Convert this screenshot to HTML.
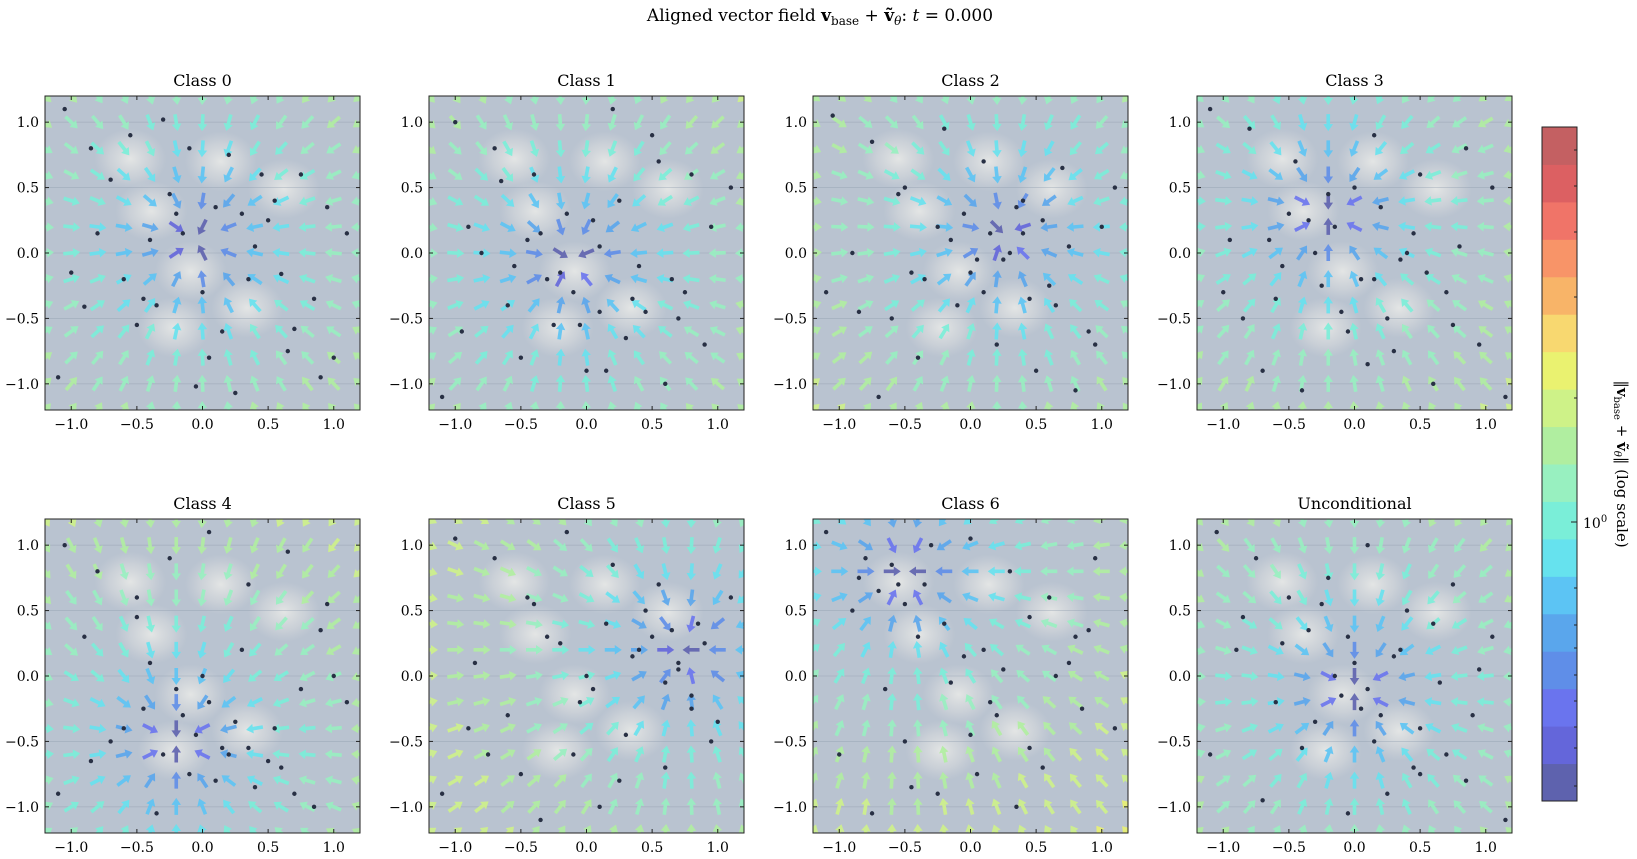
<!DOCTYPE html>
<html><head><meta charset="utf-8">
<style>
body{margin:0;background:#fff;}
svg{display:block;font-family:"DejaVu Serif","Liberation Serif",serif;}
</style></head>
<body>
<svg id="fig" width="1637" height="859" viewBox="0 0 1637 859" xmlns="http://www.w3.org/2000/svg">
<defs>
<radialGradient id="blob"><stop offset="0" stop-color="#eeeeea" stop-opacity="0.8"/><stop offset="0.6" stop-color="#e4e4e2" stop-opacity="0.4"/><stop offset="1" stop-color="#dddddd" stop-opacity="0"/></radialGradient>
</defs>
<text x="820" y="21" font-size="17" text-anchor="middle">Aligned vector field <tspan font-weight="bold">v</tspan><tspan font-size="12" dy="4">base</tspan><tspan dy="-4"> + </tspan><tspan font-weight="bold">ṽ</tspan><tspan font-size="12" dy="4" font-style="italic">θ</tspan><tspan dy="-4">: </tspan><tspan font-style="italic">t</tspan> = 0.000</text>
<g id="panels"></g>
<g id="cbar"></g>
<text transform="translate(1617,464) rotate(90)" font-size="15" text-anchor="middle">‖<tspan font-weight="bold">v</tspan><tspan font-size="10" dy="3">base</tspan><tspan dy="-3"> + </tspan><tspan font-weight="bold">ṽ</tspan><tspan font-size="10" dy="3" font-style="italic">θ</tspan><tspan dy="-3">‖ (log scale)</tspan></text>
</svg>
<script>
const titles=["Class 0","Class 1","Class 2","Class 3","Class 4","Class 5","Class 6","Unconditional"];
const targetsX=[-0.05,-0.12,0.25,-0.2,-0.2,0.75,-0.5,0.0];
const targetsY=[0.1,-0.05,0.15,0.3,-0.5,0.2,0.8,-0.1];
const blobX=[-0.39,-0.09,0.34,-0.22,0.14,0.62,-0.55];
const blobY=[0.32,-0.14,-0.42,-0.57,0.70,0.49,0.72];
const tickVals=[-1.0,-0.5,0.0,0.5,1.0];
const tickLabels=["−1.0","−0.5","0.0","0.5","1.0"];
const gridVals=[-1.2,-1.0,-0.8,-0.6,-0.4,-0.2,0,0.2,0.4,0.6,0.8,1.0,1.2];
const ptsX=[
[-1.05,-0.85,-0.55,-0.3,-0.1,0.1,0.45,0.75,0.95,1.1,-0.6,-0.2,0.3,0.6,-0.9,-0.45,0.05,0.25,0.85,-0.15,0.35,-0.7,0.55,1.0,-0.35,0.15,-1.1,0.7,-0.05,0.4,-0.25,0.2,-0.5,0.9,-0.8,0.5,0.0,-0.4,0.65,-1.0],
[-1.0,-0.7,-0.4,-0.15,0.2,0.5,0.8,1.1,-0.9,-0.3,0.1,0.4,0.7,-0.6,-0.1,0.3,0.9,-1.1,-0.5,0.0,0.6,-0.8,0.25,-0.25,0.45,0.05,-0.45,0.75,0.15,-0.65,-0.2,0.35,-0.55,0.95,0.55,-0.95,0.1,-0.35,0.65,-0.05],
[-1.05,-0.75,-0.5,-0.2,0.1,0.4,0.7,1.0,-0.9,-0.35,0.0,0.3,0.6,0.9,-0.6,-0.1,0.2,0.5,0.8,-1.1,-0.4,0.15,0.45,-0.7,0.35,0.05,-0.25,0.65,1.1,-0.55,0.25,-0.15,0.55,-0.85,0.1,0.75,-0.45,0.4,-0.05,0.95],
[-1.1,-0.8,-0.45,-0.2,0.15,0.5,0.85,1.05,-0.95,-0.3,0.05,0.35,0.7,-0.6,-0.05,0.25,0.95,-0.7,-0.4,0.1,0.6,-0.15,0.45,-0.85,0.3,-0.5,0.8,0.0,-0.25,1.15,-0.35,0.2,-0.55,0.55,-1.0,0.4,-0.1,0.75,-0.65,0.15],
[-1.05,-0.8,-0.5,-0.25,0.05,0.35,0.65,0.95,-0.9,-0.4,0.0,0.3,0.75,1.1,-0.6,-0.15,0.2,0.5,-1.1,-0.35,0.1,0.4,0.85,-0.7,0.25,-0.05,0.6,-0.5,0.15,0.9,-0.3,0.35,-0.1,0.55,-0.85,0.05,-0.45,0.7,-0.2,1.0],
[-1.0,-0.7,-0.45,-0.15,0.2,0.55,0.85,1.1,-0.85,-0.3,0.05,0.4,0.7,-0.6,-0.05,0.3,0.95,-1.1,-0.5,0.1,0.6,-0.2,0.45,0.8,-0.75,0.25,0.65,0.0,-0.35,1.0,0.5,0.7,0.9,0.6,-0.4,0.35,-0.9,0.15,0.8,-0.1],
[-1.1,-0.8,-0.55,-0.3,0.0,0.3,0.6,0.95,-0.9,-0.4,0.1,0.45,0.75,-0.65,-0.15,0.2,0.85,-1.0,-0.5,0.05,0.55,-0.25,0.35,1.1,-0.75,0.15,0.65,-0.05,-0.45,0.9,-0.6,-0.35,-0.7,-0.5,0.25,-0.85,0.45,-0.2,0.8,0.0],
[-1.05,-0.75,-0.5,-0.2,0.1,0.4,0.75,1.05,-0.9,-0.35,0.0,0.3,0.65,0.95,-0.6,-0.1,0.2,0.5,-1.1,-0.4,0.15,0.45,0.85,-0.7,0.25,-0.05,0.6,-0.25,0.05,1.15,-0.15,0.1,-0.3,0.35,-0.55,0.7,-0.85,0.5,-0.05,0.9]];
const ptsY=[
[1.1,0.8,0.9,1.02,0.8,0.35,0.6,0.6,0.35,0.15,-0.2,0.3,0.3,-0.16,-0.41,-0.35,-0.8,-1.07,-0.35,0.15,-0.2,0.56,0.4,-0.8,-0.4,-0.6,-0.95,-0.58,-1.02,0.05,0.45,0.75,-0.55,-0.95,0.15,0.25,-0.3,0.1,-0.75,-0.15],
[1.0,0.8,0.6,0.3,1.1,0.9,0.6,0.5,0.2,-0.2,0.05,-0.1,-0.5,-0.4,-0.3,-0.65,-0.7,-1.1,-0.8,-0.9,-1.0,0.0,0.4,-0.55,-0.45,0.25,0.1,-0.3,-0.9,0.55,-0.15,-0.35,-0.1,0.2,0.7,-0.6,-0.45,0.15,-0.2,-0.55],
[1.05,0.85,0.5,0.95,0.7,0.4,0.65,0.2,0.0,-0.2,-0.15,0.0,-0.25,-0.6,-0.5,-0.4,-0.7,-0.9,-1.05,-0.3,-0.8,0.15,-0.35,-1.1,0.35,-0.05,0.2,-0.4,0.5,0.45,-0.05,0.1,0.25,-0.45,-0.3,0.05,-0.15,0.15,0.3,-0.7],
[1.1,0.95,0.7,0.45,0.9,0.6,0.8,0.5,0.1,0.0,-0.2,-0.05,-0.3,-0.35,-0.6,-0.5,-0.7,-0.9,-1.05,-0.85,-1.0,0.2,0.15,-0.5,-0.75,0.3,0.05,0.5,-0.25,-1.1,0.25,0.35,-0.1,-0.15,-0.3,0.0,-0.45,-0.55,0.1,-0.2],
[1.0,0.8,0.6,0.9,1.1,0.7,0.95,0.55,0.3,0.1,0.0,0.2,-0.1,-0.2,-0.4,-0.3,-0.6,-0.65,-0.9,-1.05,-0.8,-0.85,-1.0,-0.5,-0.35,-0.45,-0.7,0.45,-0.55,0.35,-0.6,-0.55,-0.75,-0.4,-0.65,-0.2,-0.25,-0.9,-0.1,0.0],
[1.05,0.9,0.6,1.1,0.85,0.7,0.4,0.6,0.1,0.3,-0.1,0.2,0.05,-0.3,-0.2,-0.45,-0.5,-0.9,-0.75,-1.0,-0.7,0.25,0.5,-0.15,-0.6,-0.8,0.35,0.0,-1.1,-0.35,0.3,0.1,0.25,-0.05,0.55,0.15,-0.4,0.4,-0.25,-0.6],
[1.1,0.9,0.7,1.0,1.05,0.8,0.6,0.9,0.5,0.3,0.2,0.45,0.1,-0.1,-0.05,-0.3,-0.25,-0.6,-0.5,-0.75,-0.7,-0.9,-1.0,-0.4,-1.05,-0.2,0.0,0.15,-0.85,0.35,0.85,0.7,0.65,0.55,0.05,0.75,-0.55,0.4,0.3,-0.45],
[1.1,0.9,0.6,0.75,1.0,0.5,0.7,0.3,0.2,0.35,0.1,0.15,-0.05,0.05,-0.2,-0.15,-0.3,-0.4,-0.6,-0.55,-0.5,-0.7,-0.8,-0.95,-0.9,-1.05,0.4,0.55,-0.25,-1.1,0.0,-0.1,-0.35,0.2,0.25,-0.6,0.45,-0.75,0.3,-0.3]];
const cmapStops=["#5e62ae","#6466da","#6a74ee","#5f8ee8","#5aa6ec","#5cc4f4","#66e2ee","#7aeed8","#98f0c0","#b0eea0","#cef288","#eaf270","#f8d870","#f8b468","#f89468","#f07468","#dc6062","#c46062"];
const NS="http://www.w3.org/2000/svg";
const colX=[45,429,813,1197],rowY=[96,519],W=315,H=314;
function mk(tag,attrs,parent){const e=document.createElementNS(NS,tag);for(const k in attrs)e.setAttribute(k,attrs[k]);if(parent)parent.appendChild(e);return e;}
function cmap(t){t=Math.max(0,Math.min(0.999,t));return cmapStops[Math.floor(t*cmapStops.length)];}
const root=document.getElementById('panels');
for(let p=0;p<8;p++){
  const x0=colX[p%4],y0=rowY[Math.floor(p/4)];
  const sx=v=>x0+(v+1.2)/2.4*W, sy=v=>y0+(1.2-v)/2.4*H;
  const g=mk('g',{},root);
  
  
  const cid='clip'+p;
  const cp=mk('clipPath',{id:cid},g);mk('rect',{x:x0,y:y0,width:W,height:H},cp);
  const inner=mk('g',{'clip-path':'url(#'+cid+')'},g);
  const bg=mk('rect',{x:x0,y:y0,width:W,height:H,fill:'#b9c3d0'},inner);
  
  
  for(let b=0;b<blobX.length;b++){
    const bl=mk('ellipse',{cx:sx(blobX[b]),cy:sy(blobY[b]),rx:36,ry:30,fill:'url(#blob)'},inner);
    
    
  }
  tickVals.forEach(v=>{mk('line',{x1:x0,x2:x0+W,y1:sy(v),y2:sy(v),stroke:'#8a98aa','stroke-width':0.8,opacity:0.4},inner);});
  const tx=targetsX[p],ty=targetsY[p];
  gridVals.forEach(gx=>gridVals.forEach(gy=>{
    const dx=tx-gx,dy=ty-gy,d=Math.hypot(dx,dy)+1e-6;
    const m=1.5*d;const t=0.36+0.45*Math.log10(m);
    const ang=Math.atan2(-dy,dx)*180/Math.PI;
    const a=mk('polygon',{points:'-8,-1.8 2,-1.8 2,-4.8 9,0 2,4.8 2,1.8 -8,1.8',fill:cmap(t),opacity:0.9,transform:'translate('+sx(gx)+','+sy(gy)+') rotate('+ang+')'},inner);
    
    
  }));
  for(let i=0;i<ptsX[p].length;i++){
    const c=mk('circle',{cx:sx(ptsX[p][i]),cy:sy(ptsY[p][i]),r:2.2,fill:'#283044'},inner);
    
    
  }
  const fr=mk('rect',{x:x0,y:y0,width:W,height:H,fill:'none',stroke:'#222','stroke-width':1},g);
  
  
  tickVals.forEach((v,i)=>{
    const X=sx(v),Y=sy(v);
    mk('line',{x1:X,x2:X,y1:y0+H,y2:y0+H-4,stroke:'#222'},g);
    mk('line',{x1:X,x2:X,y1:y0,y2:y0+4,stroke:'#222'},g);
    mk('line',{x1:x0,x2:x0+4,y1:Y,y2:Y,stroke:'#222'},g);
    mk('line',{x1:x0+W,x2:x0+W-4,y1:Y,y2:Y,stroke:'#222'},g);
    const xl=mk('text',{x:X,y:y0+H+19,'font-size':14,'text-anchor':'middle'},g);xl.textContent=tickLabels[i];
    
    
    const yl=mk('text',{x:x0-6,y:Y+5,'font-size':14,'text-anchor':'end'},g);yl.textContent=tickLabels[i];
    
    
  });
  const tt=mk('text',{x:x0+W/2,y:y0-10,'font-size':16,'text-anchor':'middle'},g);tt.textContent=titles[p];
  
  
}
// colorbar
const cb=document.getElementById('cbar');


const cbx=1542,cby=127,cbw=35,cbh=674,n=cmapStops.length;
cmapStops.forEach((c,i)=>{const r=mk('rect',{x:cbx,y:cby+cbh-(i+1)*cbh/n,width:cbw,height:cbh/n+0.5,fill:c},cb);
  
  });
mk('rect',{x:cbx,y:cby,width:cbw,height:cbh,fill:'none',stroke:'#222'},cb);
[150,186,232,297,398,522,588,625,648,675,701,727,748,786].forEach(y=>mk('line',{x1:cbx+cbw,x2:cbx+cbw-3,y1:y,y2:y,stroke:'#222'},cb));
mk('line',{x1:cbx+cbw,x2:cbx+cbw-6,y1:522,y2:522,stroke:'#222'},cb);
const cl=mk('text',{x:1583,y:528,'font-size':14},cb);cl.innerHTML='10<tspan font-size="10" dy="-6">0</tspan>';


</script>
</body></html>
